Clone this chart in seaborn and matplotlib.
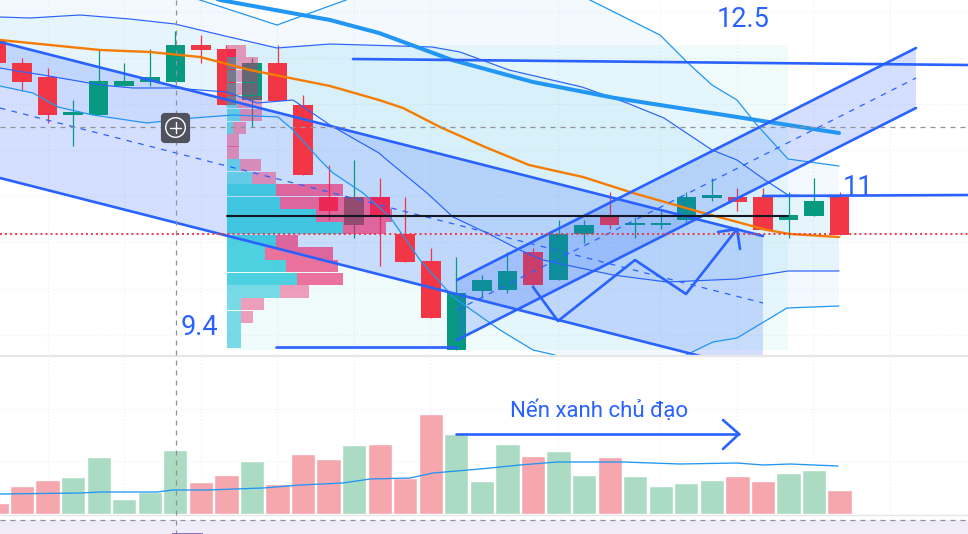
import numpy as np
import pandas as pd
import seaborn as sns
import matplotlib
matplotlib.use("Agg")
import matplotlib.pyplot as plt
from matplotlib.patches import Rectangle, FancyBboxPatch, Circle

# ---------- candles ----------
candle_index = np.arange(-1, 33)
opens = [12.55, 12.32, 12.18, 11.80, 11.80, 12.09, 12.13, 12.13, 12.50, 12.46, 11.95, 12.32, 11.90, 10.98, 10.70,
         10.98, 10.61, 10.34, 9.45, 10.04, 10.05, 10.43, 10.15, 10.61, 10.78, 10.70, 10.70, 10.75, 10.97, 10.98,
         10.98, 10.75, 10.79, 10.98]
highs = [12.55, 12.37, 12.27, 11.95, 12.46, 12.32, 12.46, 12.64, 12.60, 12.50, 12.37, 12.50, 12.00, 11.30, 11.35,
         11.17, 10.98, 10.47, 10.38, 10.20, 10.43, 10.47, 10.75, 10.75, 11.03, 10.78, 10.84, 11.03, 11.17, 11.07,
         11.07, 11.03, 11.17, 11.03]
lows = [12.32, 12.04, 11.72, 11.49, 11.80, 12.09, 12.09, 12.13, 12.32, 11.90, 11.68, 11.94, 11.20, 10.75, 10.57,
        10.29, 10.33, 9.77, 9.45, 9.97, 10.02, 10.07, 10.15, 10.52, 10.66, 10.57, 10.66, 10.71, 10.94, 10.84,
        10.65, 10.57, 10.79, 10.60]
closes = [12.32, 12.13, 11.80, 11.82, 12.14, 12.14, 12.18, 12.50, 12.45, 11.90, 12.32, 11.94, 11.20, 10.84, 10.98,
          10.80, 10.33, 9.77, 10.02, 10.15, 10.24, 10.10, 10.61, 10.70, 10.70, 10.72, 10.72, 10.98, 10.99, 10.93,
          10.65, 10.80, 10.94, 10.60]

# ---------- volume ----------
volumes = [11, 28, 34, 37, 57, 15, 22, 64, 32, 39, 53, 30, 60, 55, 69, 70, 36, 100, 80, 33, 70, 58, 63, 39, 57,
           38, 28, 31, 34, 38, 33, 41, 44, 24]
vol_ma_x = [0, 80, 100, 157, 173, 207, 263, 300, 343, 370, 410, 433, 480, 520, 557, 623, 680, 737, 763, 790, 838]
vol_ma_y = [20, 21, 22, 22, 24, 24, 26, 29, 31, 35, 36, 41, 45, 49, 52, 52, 50, 51, 49, 50, 48]

# ---------- indicator lines ----------
upper_in_x = [0, 30, 80, 130, 175, 225, 277, 330, 432, 460, 509, 582, 627, 664, 712, 737, 765, 788, 839]
upper_in_y = [12.78, 12.77, 12.80, 12.76, 12.71, 12.59, 12.47, 12.51, 12.48, 12.43, 12.25, 12.08, 11.92, 11.77,
              11.45, 11.35, 11.15, 11.00, 10.98]
upper_out_x = [0, 200, 277, 346, 480, 590, 660, 688, 712, 737, 757, 788, 839]
upper_out_y = [13.55, 12.95, 12.70, 12.95, 13.55, 12.95, 12.60, 12.32, 12.10, 11.95, 11.70, 11.36, 11.29]
lower_in_x = [0, 17, 43, 72, 100, 133, 173, 227, 257, 293, 330, 379, 387, 427, 453, 487, 520, 543, 613, 667, 737,
              788, 839]
lower_in_y = [12.27, 12.24, 12.20, 12.15, 12.10, 12.07, 12.07, 12.03, 11.92, 11.95, 11.70, 11.42, 11.35, 11.02,
              10.78, 10.62, 10.45, 10.35, 10.20, 10.13, 10.16, 10.24, 10.24]
lower_out_x = [0, 33, 58, 93, 147, 193, 233, 278, 293, 320, 333, 363, 390, 420, 453, 500, 533, 555, 620, 688, 713,
               737, 787, 839]
lower_out_y = [12.09, 12.02, 11.88, 11.80, 11.72, 11.77, 11.80, 11.78, 11.65, 11.35, 11.22, 11.02, 10.78, 10.35,
               9.98, 9.65, 9.45, 9.40, 8.95, 9.41, 9.53, 9.57, 9.87, 9.89]
basis_x = [175, 220, 330, 379, 452, 533, 615, 737, 839]
basis_y = [13.10, 12.95, 12.75, 12.62, 12.35, 12.13, 11.97, 11.78, 11.62]
orange_x = [0, 50, 100, 150, 200, 250, 300, 330, 379, 403, 440, 485, 529, 583, 633, 700, 767, 790, 839]
orange_y = [12.55, 12.50, 12.45, 12.43, 12.38, 12.25, 12.15, 12.09, 11.95, 11.87, 11.68, 11.48, 11.30, 11.18,
            11.02, 10.83, 10.65, 10.61, 10.58]

# ---------- drawings ----------
down_x = [0, 763]
down_top = [12.53, 10.59]
down_mid = [11.87, 9.92]
down_bot = [11.17, 9.23]
up_x = [457, 916]
up_top = [10.15, 12.47]
up_mid = [9.85, 12.17]
up_bot = [9.55, 11.87]
resist_x, resist_y = [353, 968], [12.36, 12.30]
level11_x, level11_y = [763, 968], [10.99, 11.00]
level94_x, level94_y = [276, 456], [9.48, 9.48]
poc_x, poc_y = [227, 788], [10.79, 10.79]
last_price = 10.61
zig_x = [533, 558, 635, 686, 737]
zig_y = [10.08, 9.74, 10.35, 10.01, 10.66]
head_x = [718, 737, 740]
head_y = [10.63, 10.66, 10.46]

# ---------- volume profile ----------
vp_price = [12.44, 12.32, 12.19, 12.06, 11.93, 11.80, 11.67, 11.545, 11.425, 11.30, 11.17, 11.05, 10.92, 10.795,
            10.67, 10.54, 10.415, 10.29, 10.16, 10.035, 9.91, 9.78, 9.655, 9.53]
vp_up = [0, 10, 10, 10, 10, 13, 6, 0, 0, 13, 25, 49, 53, 89, 116, 49, 38, 59, 70, 53, 14, 14, 14, 14]
vp_down = [19, 21, 21, 21, 25, 22, 13, 12, 12, 21, 24, 67, 110, 76, 43, 22, 68, 52, 46, 29, 23, 12, 0, 0]
vp_in_value_area = [0] * 11 + [1] * 8 + [0] * 5
labels = ["12.5", "11", "9.4", "Nến xanh chủ đạo"]

RED, GREEN, BLUE = "#F23645", "#089981", "#2962FF"
SKY = "#2196F3"
GRID = "#EEF0F4"

sns.set_theme(style="white")
plt.rcParams["font.family"] = ["Roboto", "DejaVu Sans"]

W, H = 968, 534
fig = plt.figure(figsize=(W / 100, H / 100), dpi=100, facecolor="white")
ax = fig.add_axes([0, (H - 356) / H, 1, 356 / H])
av = fig.add_axes([0, (H - 514) / H, 1, 158 / H])
ao = fig.add_axes([0, 0, 1, 1])
for a in (ax, av, ao):
    a.patch.set_alpha(0)


def line(x, y, color, lw, z=5, **kw):
    sns.lineplot(x=x, y=y, ax=ax, color=color, linewidth=lw, zorder=z, sort=False, estimator=None,
                 solid_capstyle="round", **kw)


grid_x = [48, 124, 201, 277, 354, 430, 558, 660, 737, 813, 890]
ax.vlines(grid_x, 9.39, 12.95, color=GRID, lw=0.9, ls=(0, (1, 2)), zorder=0)
ax.hlines([12.83, 12.37, 11.91, 11.45, 10.99, 10.53, 10.06, 9.60], 0, W, color=GRID, lw=0.9, ls=(0, (1, 2)), zorder=0)
av.vlines(grid_x, 0, 158, color=GRID, lw=0.9, ls=(0, (1, 2)), zorder=0)
av.hlines([105, 53], 0, W, color=GRID, lw=0.9, ls=(0, (1, 2)), zorder=0)

# band fills
ax.fill(np.r_[upper_out_x, lower_out_x[::-1]], np.r_[upper_out_y, lower_out_y[::-1]], color=SKY, alpha=0.05, lw=0, zorder=1)
ax.fill(np.r_[upper_in_x, lower_in_x[::-1]], np.r_[upper_in_y, lower_in_y[::-1]], color="#26A9E0", alpha=0.06, lw=0, zorder=1)
ax.add_patch(Rectangle((227, 9.45), 561, 3.05, color="#00BCD4", alpha=0.06, lw=0, zorder=1.2))

# falling channel under the candles
ax.fill(down_x + down_x[::-1], down_top + down_bot[::-1], color=BLUE, alpha=0.2, lw=0, zorder=2)

# candles
cx = 22 + 25.55 * candle_index
for x, o, h, l, c in zip(cx, opens, highs, lows, closes):
    col = GREEN if c >= o else RED
    ax.vlines(x, l, h, color=col, lw=0.9 if h - l < 1.4 else 1.1, zorder=3)
    ax.bar(x, max(abs(c - o), 0.025), bottom=min(o, c), width=19.6, color=col, lw=0, zorder=3)

# volume profile
for p, u, d, va in zip(vp_price, vp_up, vp_down, vp_in_value_area):
    au, ad = (0.68, 0.62) if va else (0.5, 0.42)
    if u:
        ax.barh(p, u, left=227, height=0.122, color="#00BCD4", alpha=au, lw=0, zorder=3.5)
    if d:
        ax.barh(p, d, left=227 + u, height=0.122, color="#E91E63", alpha=ad, lw=0, zorder=3.5)

# rising channel over the candles
ax.fill(up_x + up_x[::-1], up_top + up_bot[::-1], color=BLUE, alpha=0.2, lw=0, zorder=4)

# indicators
line(upper_out_x, upper_out_y, SKY, 0.9)
line(lower_out_x, lower_out_y, SKY, 0.9)
line(upper_in_x, upper_in_y, BLUE, 0.85)
line(lower_in_x, lower_in_y, BLUE, 0.85)
line(basis_x, basis_y, SKY, 2.9)
line(orange_x, orange_y, "#F57C00", 1.7)

# drawings
for y in (down_top, down_bot):
    line(down_x, y, BLUE, 1.9)
for y in (up_top, up_bot):
    line(up_x, y, BLUE, 1.9)
ax.plot(down_x, down_mid, color=BLUE, lw=0.9, ls=(0, (4.5, 5)), zorder=5)
ax.plot(up_x, up_mid, color=BLUE, lw=0.9, ls=(0, (4.5, 5)), zorder=5)
line(resist_x, resist_y, BLUE, 1.9)
line(level11_x, level11_y, BLUE, 1.9)
line(level94_x, level94_y, BLUE, 1.9)
line(poc_x, poc_y, "#131722", 1.5)
line(zig_x, zig_y, BLUE, 1.9)
line(head_x, head_y, BLUE, 1.9)
ax.axhline(last_price, color=RED, lw=1.4, ls=(0, (1, 1.6)), zorder=5)

ax.set_xlim(0, W)
ax.set_ylim(9.39, 12.95)
ax.axis("off")

# volume
vol_x = 22 + 25.55 * candle_index
df = pd.DataFrame({"x": vol_x, "vol": volumes,
                   "dir": ["up" if c >= o else "down" for o, c in zip(opens, closes)]})
sns.barplot(data=df, x="x", y="vol", hue="dir", palette={"up": "#ABDBC3", "down": "#F6A6AD"}, native_scale=True,
            width=0.95, dodge=False, saturation=1, legend=False, errorbar=None, ax=av, zorder=2)
sns.lineplot(x=vol_ma_x, y=vol_ma_y, ax=av, color=SKY, linewidth=0.95, sort=False, estimator=None, zorder=3)
av.set_xlim(0, W)
av.set_ylim(0, 158)
av.axis("off")

# chrome and annotations (pane furniture)
ao.set_xlim(0, W)
ao.set_ylim(H, 0)
ao.axis("off")
ao.add_patch(Rectangle((0, 520), W, 14, color="#F0EDF9", lw=0, zorder=1))
ao.hlines(355.5, 0, W, color="#E6E6E9", lw=1.6, zorder=1)
ao.hlines(515, 0, W, color="#E6E6E9", lw=0.9, zorder=1)
ao.hlines([127, 520], 0, W, color="#8F9199", lw=0.9, ls=(0, (4, 4)), zorder=2)
ao.vlines(175.5, 0, H, color="#8F9199", lw=0.9, ls=(0, (4, 4)), zorder=2)
ao.hlines(533.5, 172, 203, color="#7E57C2", lw=1.2, zorder=2)
ao.add_patch(FancyBboxPatch((163, 115), 25, 26, boxstyle="round,pad=0,rounding_size=2", mutation_aspect=1,
                            fc="#50535E", ec="#50535E", lw=3, zorder=6))
ao.add_patch(Circle((175.5, 127.5), 9.8, fc="none", ec="white", lw=1.0, zorder=7))
ao.plot([170, 181], [127.5, 127.5], color="white", lw=1.0, zorder=7)
ao.plot([175.5, 175.5], [122, 133], color="white", lw=1.0, zorder=7)

ao.text(743.5, 27, labels[0], color=BLUE, fontsize=19.5, ha="center", va="baseline", zorder=8)
ao.text(857.5, 195, labels[1], color=BLUE, fontsize=19.5, ha="center", va="baseline", zorder=8)
ao.text(199, 335, labels[2], color=BLUE, fontsize=19.5, ha="center", va="baseline", zorder=8)
ao.text(599.5, 417, labels[3], color=BLUE, fontsize=16, ha="center", va="baseline", zorder=8)
ao.plot([456, 739], [434, 434], color=BLUE, lw=1.9, zorder=8)
ao.plot([723, 739, 723], [420, 434, 449], color=BLUE, lw=1.9, zorder=8)

fig.savefig("out.png", dpi=100, facecolor="white")
